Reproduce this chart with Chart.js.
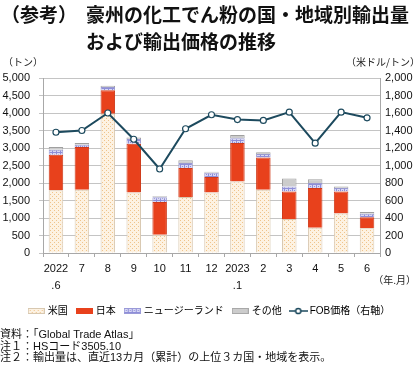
<!DOCTYPE html>
<html>
<head>
<meta charset="utf-8">
<script src="https://cdn.jsdelivr.net/npm/chart.js@4/dist/chart.umd.min.js"></script>
<style>
    body { margin: 0; background: #fff; }
    #wrap { position: relative; width: 420px; height: 371px; overflow: hidden; }
    #chart { position: absolute; left: 0; top: 0; }
    .title { position: absolute; top: 0; font: bold 19px 'Noto Sans CJK JP', sans-serif; line-height: 27px; color: #111; white-space: nowrap; }
    #notes { position: absolute; left: 0; top: 329px; font: 11px 'Liberation Sans', 'Noto Sans CJK JP', sans-serif; line-height: 11.7px; color: #111; white-space: nowrap; }
</style>
</head>
<body>
<div id="wrap">
    <canvas id="chart" width="420" height="371"></canvas>
    <div class="title" style="left:1px">（参考）</div>
    <div class="title" style="left:86px">豪州の化工でん粉の国・地域別輸出量<br>および輸出価格の推移</div>
    <div id="notes">
        資料：「Global Trade Atlas」<br>
        注１：HSコード3505.10<br>
        注２：輸出量は、直近13カ月（累計）の上位３カ国・地域を表示。
    </div>
</div>
<script>
const months = [["2022", ".6"], "7", "8", "9", "10", "11", "12", ["2023", ".1"], "2", "3", "4", "5", "6"];

// export volume (tons)
const usa   = [1790, 1810, 3980, 1730, 520, 1600, 1730, 2040, 1810, 970, 720, 1130, 710];
const japan = [1020, 1220, 670, 1390, 940, 830, 440, 1100, 920, 790, 1140, 630, 310];
const nz    = [140, 60, 90, 140, 130, 140, 120, 140, 100, 140, 140, 100, 100];
const other = [80, 50, 40, 40, 30, 80, 30, 90, 50, 230, 110, 40, 50];

// FOB price (USD/ton, right axis)
const fobPrice = [1380, 1400, 1600, 1300, 960, 1420, 1580, 1525, 1515, 1610, 1255, 1610, 1545];

const FONT = "'Liberation Sans', 'Noto Sans CJK JP', sans-serif";
const LINE_COLOR = '#1d4a5e';

function makeTile(size, draw) {
    const c = document.createElement('canvas');
    c.width = size; c.height = size;
    draw(c.getContext('2d'));
    return c;
}

const ctx = document.getElementById('chart').getContext('2d');

const dotTile = makeTile(4, g => {
    g.fillStyle = '#fdf2e2';
    g.fillRect(0, 0, 4, 4);
    g.fillStyle = '#efc48c';
    g.fillRect(0, 0, 1, 1);
    g.fillRect(2, 2, 1, 1);
});
const checkTile = makeTile(4, g => {
    g.fillStyle = '#d8d8f4';
    g.fillRect(0, 0, 4, 4);
    g.fillStyle = '#8e8ed8';
    g.fillRect(0, 0, 4, 1);
    g.fillRect(0, 0, 1, 4);
    g.fillRect(2, 2, 1, 1);
});
const usaFill = ctx.createPattern(dotTile, 'repeat');
const nzFill = ctx.createPattern(checkTile, 'repeat');

// legend symbols
function boxIcon(fill, stroke) {
    const c = document.createElement('canvas');
    c.width = 17; c.height = 6;
    const g = c.getContext('2d');
    g.fillStyle = fill === 'usa' ? g.createPattern(dotTile, 'repeat') :
                  fill === 'nz' ? g.createPattern(checkTile, 'repeat') : fill;
    g.fillRect(0, 0, 17, 6);
    g.strokeStyle = stroke;
    g.lineWidth = 1;
    g.strokeRect(0.5, 0.5, 16, 5);
    return c;
}
function lineIcon() {
    const c = document.createElement('canvas');
    c.width = 19; c.height = 8;
    const g = c.getContext('2d');
    g.strokeStyle = LINE_COLOR;
    g.lineWidth = 1.5;
    g.beginPath(); g.moveTo(0, 4); g.lineTo(19, 4); g.stroke();
    g.fillStyle = '#fff';
    g.beginPath(); g.arc(9.5, 4, 2.6, 0, Math.PI * 2); g.fill(); g.stroke();
    return c;
}

const legendItems = [
    { text: '米国', icon: boxIcon('usa', '#d8c8b0'), ds: 1 },
    { text: '日本', icon: boxIcon('#e8411c', '#e8411c'), ds: 2 },
    { text: 'ニュージーランド', icon: boxIcon('nz', '#9a9ad8'), ds: 3 },
    { text: 'その他', icon: boxIcon('#cccccc', '#a8a8a8'), ds: 4 },
    { text: 'FOB価格（右軸）', icon: lineIcon(), ds: 0 }
];

// unit captions around the plot
const unitLabels = {
    id: 'unitLabels',
    afterDraw(chart) {
        const { ctx, chartArea } = chart;
        ctx.save();
        ctx.fillStyle = '#222';
        ctx.font = "10px 'Noto Sans CJK JP', sans-serif";
        ctx.textBaseline = 'middle';
        ctx.textAlign = 'left';
        ctx.fillText('（トン）', 3, chartArea.top - 16);
        ctx.textAlign = 'right';
        ctx.fillText('（米ドル/トン）', 420, chartArea.top - 16);
        ctx.fillText('（年.月）', 416, chartArea.bottom + 27);
        ctx.restore();
    }
};

new Chart(ctx, {
    data: {
        labels: months,
        datasets: [
            {
                type: 'line',
                label: 'FOB価格（右軸）',
                data: fobPrice,
                yAxisID: 'y1',
                borderColor: LINE_COLOR,
                borderWidth: 2,
                pointRadius: 3,
                pointBorderWidth: 1.2,
                pointBackgroundColor: '#fff',
                pointBorderColor: LINE_COLOR,
                tension: 0,
                order: 0
            },
            { type: 'bar', label: '米国', data: usa, backgroundColor: usaFill, borderColor: '#d9c9b2', borderWidth: 1, stack: 's', order: 1 },
            { type: 'bar', label: '日本', data: japan, backgroundColor: '#e8411c', borderColor: '#cf3a1a', borderWidth: 1, stack: 's', order: 1 },
            { type: 'bar', label: 'ニュージーランド', data: nz, backgroundColor: nzFill, borderColor: '#9a9ad0', borderWidth: 1, stack: 's', order: 1 },
            { type: 'bar', label: 'その他', data: other, backgroundColor: '#cccccc', borderColor: '#a0a0a0', borderWidth: 1, stack: 's', order: 1 }
        ]
    },
    options: {
        responsive: false,
        animation: false,
        layout: { padding: { top: 78, left: 0, right: 0, bottom: 45 } },
        datasets: { bar: { barPercentage: 0.56, categoryPercentage: 1 } },
        scales: {
            x: {
                stacked: true,
                grid: { offset: true, drawOnChartArea: false, tickLength: 4, color: '#a8a8a8' },
                border: { color: '#a8a8a8' },
                ticks: { color: '#111', padding: 3, maxRotation: 0, autoSkip: false, font: { family: FONT, size: 11, lineHeight: '17px' } },
                afterFit(scale) { scale.height = 43; }
            },
            y: {
                stacked: true,
                min: 0, max: 5000,
                ticks: { stepSize: 500, color: '#111', padding: 9, font: { family: FONT, size: 11 } },
                grid: { color: '#c4c4c4', tickLength: 4 },
                border: { color: '#a8a8a8' },
                afterFit(scale) { scale.width = 43; }
            },
            y1: {
                position: 'right',
                min: 0, max: 2000,
                ticks: { stepSize: 200, color: '#111', padding: 5, font: { family: FONT, size: 11 } },
                grid: { drawOnChartArea: false, tickLength: 0 },
                border: { color: '#a8a8a8' },
                afterFit(scale) { scale.width = 40; }
            }
        },
        plugins: {
            tooltip: { enabled: false },
            legend: {
                position: 'bottom',
                labels: {
                    usePointStyle: true,
                    pointStyleWidth: 13,
                    padding: 10,
                    color: '#111',
                    font: { family: FONT, size: 10 },
                    generateLabels: () => legendItems.map(it => ({
                        text: it.text,
                        pointStyle: it.icon,
                        fillStyle: '#fff',
                        strokeStyle: '#fff',
                        lineWidth: 0,
                        hidden: false,
                        datasetIndex: it.ds
                    }))
                }
            }
        }
    },
    plugins: [unitLabels]
});
</script>
</body>
</html>
